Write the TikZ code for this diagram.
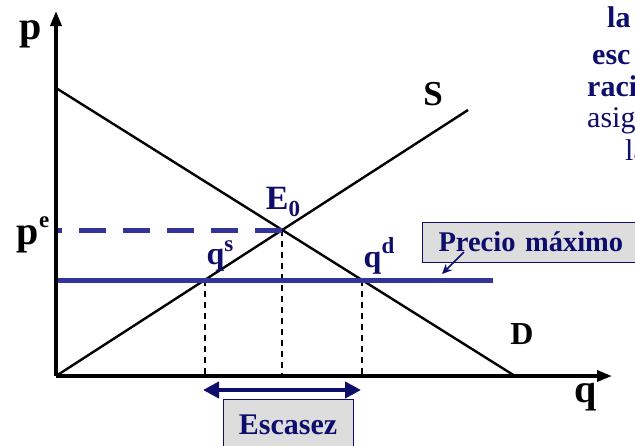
\documentclass[tikz,border=0pt]{standalone}
\usepackage{fontspec}
\setmainfont{Liberation Serif}
\usetikzlibrary{arrows.meta}
\definecolor{navy}{HTML}{0D0D6B}
\definecolor{pblue}{HTML}{333399}
\definecolor{boxgray}{HTML}{DDDDDD}
\newcommand\mysupr[1]{\raisebox{0.42em}{\fontsize{23}{25}\selectfont #1}}
\newcommand\mysubr[1]{\raisebox{-0.18em}{\fontsize{23}{25}\selectfont #1}}
\tikzset{
  axisline/.style={line width=3.5pt, -{Triangle[length=15pt,width=11pt]}},
  curve/.style={line width=2.4pt, black},
  guide/.style={line width=1.2pt, black, dash pattern=on 6pt off 5pt},
  biglbl/.style={font=\fontsize{40}{44}\selectfont\bfseries, inner sep=0pt},
  lbl/.style={font=\fontsize{32}{36}\selectfont\bfseries, inner sep=0pt},
  navylbl/.style={lbl, text=navy},
  boxlbl/.style={draw=navy, line width=1pt, fill=boxgray, text=navy,
    font=\fontsize{28.5}{31}\selectfont\bfseries, inner sep=0pt},
  sidetxt/.style={text=navy, font=\fontsize{30}{33}\selectfont, inner sep=0pt, anchor=base west},
}
\begin{document}
\begin{tikzpicture}[x=1pt,y=-1pt]
\useasboundingbox (0,0) rectangle (635,445);
\clip (0,0) rectangle (635,445);
% coordinates
\coordinate (O) at (56,376);
\coordinate (Ytop) at (56,11);
\coordinate (Xend) at (612,376);
\coordinate (D1) at (56,88);
\coordinate (D2) at (515,376);
\coordinate (S2) at (468,110);
\coordinate (E) at (282,230);
\coordinate (Pe) at (56,230);
\coordinate (C1) at (56,280);
\coordinate (C2) at (493,280);
\coordinate (Qs) at (205,280);
\coordinate (Qd) at (362,280);
\coordinate (AL) at (203,390);
\coordinate (AR) at (361,390);
\coordinate (PMtail) at (464,252);
\coordinate (PMtip) at (442,274);
% guides
\draw[guide] (Qs) -- (Qs |- O);
\draw[guide] (E) -- (E |- O);
\draw[guide] (Qd) -- (Qd |- O);
% curves
\draw[curve] (D1) -- (D2);
\draw[curve] (O) -- (S2);
% price lines
\draw[pblue, line width=5pt, dash pattern=on 27pt off 17pt] (E) -- (Pe);
\draw[pblue, line width=5pt] (C1) -- (C2);
% axes
\draw[axisline] (O) -- (Ytop);
\draw[axisline] (O) -- (Xend);
% labels
\node[biglbl] (plab) at (31,34) {p};
\node[biglbl] (qlab) at (586,397) {q};
\node[lbl, font=\fontsize{35}{38}\selectfont\bfseries] (slab) at (433,94) {S};
\node[lbl] (dlab) at (522,334) {D};
\node[navylbl, font=\fontsize{34}{38}\selectfont\bfseries] (elab) at (283,202) {E\mysubr{0}};
\node[biglbl] (pelab) at (33,235) {p\mysupr{e}};
\node[navylbl] (qslab) at (220,256) {q\mysupr{s}};
\node[navylbl] (qdlab) at (379,256) {q\mysupr{d}};
% boxes
\node[boxlbl, anchor=west, minimum height=40pt, minimum width=220pt, align=left, text width=204pt, inner xsep=16pt] (pm) at (422,242) {Precio máximo};
\node[boxlbl, font=\fontsize{30}{33}\selectfont\bfseries, minimum height=52pt, minimum width=130pt] (esc) at (288,425) {Escasez};
\draw[navy, line width=1.5pt, -{Stealth[length=10pt,width=9pt]}] (PMtail) -- (PMtip);
\draw[navy, line width=4pt, {Triangle[length=16pt,width=16pt]}-{Triangle[length=16pt,width=16pt]}] (AL) -- (AR);
% side text (cut by the right edge, as in the reference)
\node[sidetxt, font=\fontsize{30}{33}\selectfont\bfseries] (t1) at (607,27) {la};
\node[sidetxt, font=\fontsize{30}{33}\selectfont\bfseries] (t2) at (592,64) {esc};
\node[sidetxt, font=\fontsize{30}{33}\selectfont\bfseries] (t3) at (587,96) {raci};
\node[sidetxt] (t4) at (587,127) {asig};
\node[sidetxt] (t5) at (625,160) {la};
\end{tikzpicture}
\end{document}
